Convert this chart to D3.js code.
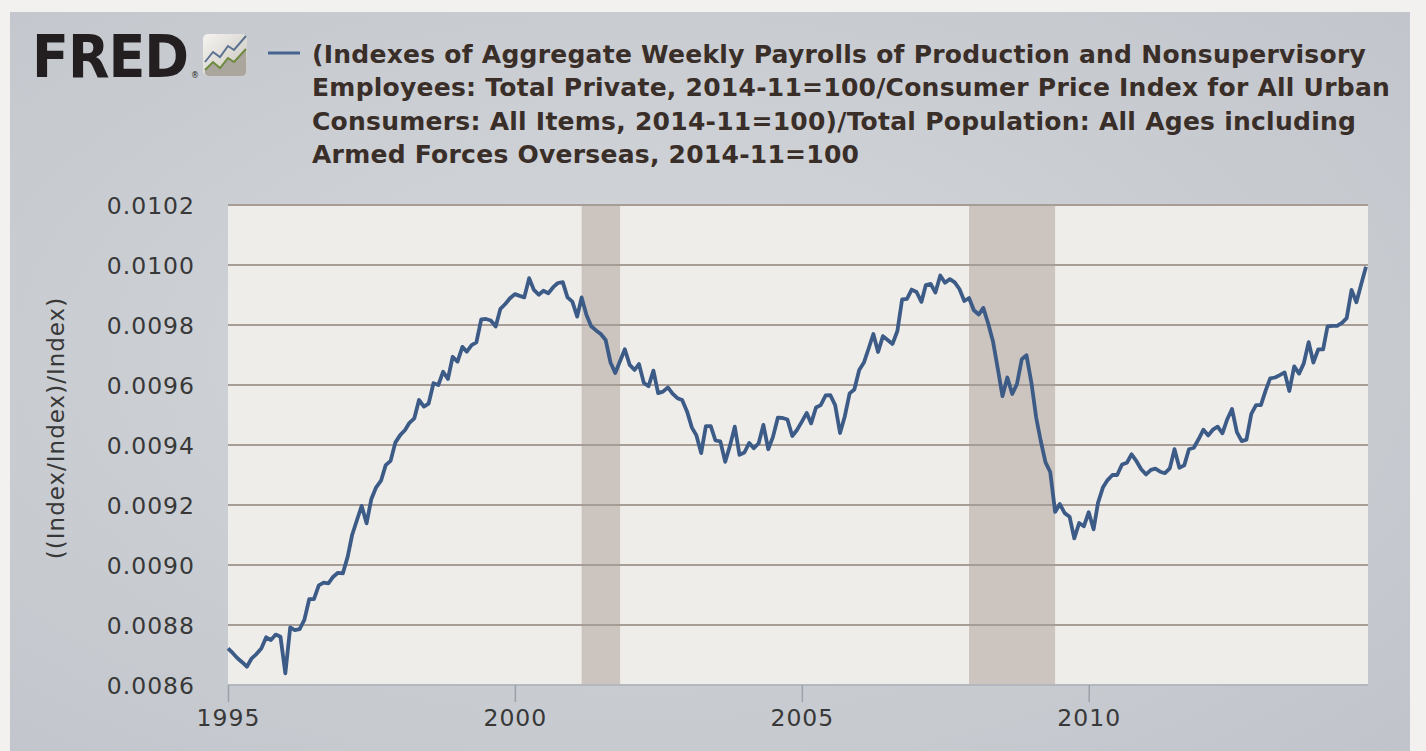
<!DOCTYPE html>
<html>
<head>
<meta charset="utf-8">
<script src="https://cdn.jsdelivr.net/npm/d3@7/dist/d3.min.js"></script>
<style>
  html, body { margin: 0; padding: 0; background: #f2f1f0; }
  svg { display: block; }
</style>
</head>
<body>
<svg id="chart" width="1426" height="751"></svg>
<script>
// monthly observations, 1995-01 .. 2014-11
const startMonth = new Date(1995, 0, 1);
const values = [
  0.008722, 0.008706, 0.008690, 0.008676, 0.008661, 0.008689, 0.008703, 0.008722, 0.008759, 0.008750, 0.008768, 0.008761,
  0.008639, 0.008792, 0.008783, 0.008786, 0.008817, 0.008886, 0.008886, 0.008932, 0.008941, 0.008939, 0.008961, 0.008974,
  0.008972, 0.009028, 0.009100, 0.009150, 0.009197, 0.009139, 0.009219, 0.009259, 0.009281, 0.009333, 0.009347, 0.009408,
  0.009433, 0.009450, 0.009474, 0.009489, 0.009550, 0.009528, 0.009538, 0.009606, 0.009600, 0.009644, 0.009620, 0.009694,
  0.009678, 0.009727, 0.009711, 0.009733, 0.009742, 0.009819, 0.009820, 0.009815, 0.009795, 0.009854, 0.009870, 0.009889,
  0.009903, 0.009897, 0.009892, 0.009956, 0.009917, 0.009901, 0.009914, 0.009906, 0.009926, 0.009940, 0.009943, 0.009892,
  0.009878, 0.009828, 0.009892, 0.009833, 0.009796, 0.009782, 0.009770, 0.009750, 0.009675, 0.009640, 0.009680, 0.009719,
  0.009667, 0.009650, 0.009670, 0.009607, 0.009596, 0.009648, 0.009573, 0.009578, 0.009592, 0.009571, 0.009556, 0.009550,
  0.009512, 0.009458, 0.009433, 0.009373, 0.009463, 0.009463, 0.009415, 0.009412, 0.009344, 0.009397, 0.009461, 0.009367,
  0.009375, 0.009407, 0.009389, 0.009406, 0.009467, 0.009386, 0.009427, 0.009491, 0.009490, 0.009485, 0.009430, 0.009450,
  0.009478, 0.009507, 0.009472, 0.009525, 0.009533, 0.009565, 0.009566, 0.009533, 0.009440, 0.009495, 0.009572, 0.009585,
  0.009650, 0.009676, 0.009720, 0.009770, 0.009710, 0.009763, 0.009750, 0.009737, 0.009780, 0.009885, 0.009887, 0.009918,
  0.009910, 0.009877, 0.009933, 0.009937, 0.009908, 0.009965, 0.009941, 0.009953, 0.009942, 0.009920, 0.009880, 0.009890,
  0.009849, 0.009835, 0.009857, 0.009805, 0.009747, 0.009655, 0.009563, 0.009625, 0.009570, 0.009603, 0.009686, 0.009699,
  0.009608, 0.009490, 0.009415, 0.009342, 0.009310, 0.009177, 0.009203, 0.009173, 0.009161, 0.009089, 0.009140, 0.009129,
  0.009176, 0.009119, 0.009207, 0.009258, 0.009283, 0.009300, 0.009300, 0.009335, 0.009341, 0.009369, 0.009346, 0.009319,
  0.009302, 0.009317, 0.009321, 0.009311, 0.009306, 0.009322, 0.009386, 0.009324, 0.009332, 0.009386, 0.009391, 0.009419,
  0.009451, 0.009432, 0.009451, 0.009461, 0.009439, 0.009486, 0.009520, 0.009443, 0.009413, 0.009418, 0.009504, 0.009533,
  0.009533, 0.009583, 0.009622, 0.009625, 0.009633, 0.009642, 0.009580, 0.009662, 0.009638, 0.009672, 0.009743, 0.009675,
  0.009719, 0.009719, 0.009795, 0.009797, 0.009797, 0.009807, 0.009823, 0.009917, 0.009876, 0.009935, 0.009994
];
const yTicks = [0.0086, 0.0088, 0.0090, 0.0092, 0.0094, 0.0096, 0.0098, 0.0100, 0.0102];
const xTickYears = [1995, 2000, 2005, 2010];
const recessions = [
  ["2001-03-01", "2001-11-01"],
  ["2007-12-01", "2009-06-01"]
];
const titleLines = [
  "(Indexes of Aggregate Weekly Payrolls of Production and Nonsupervisory",
  "Employees: Total Private, 2014-11=100/Consumer Price Index for All Urban",
  "Consumers: All Items, 2014-11=100)/Total Population: All Ages including",
  "Armed Forces Overseas, 2014-11=100"
];
const yLabel = "((Index/Index)/Index)";

const data = values.map((v, i) => ({ date: d3.timeMonth.offset(startMonth, i), value: v }));
const parse = d3.timeParse("%Y-%m-%d");

const svg = d3.select("#chart");
const defs = svg.append("defs");

const panelGrad = defs.append("radialGradient").attr("id", "panelGrad")
  .attr("cx", "45%").attr("cy", "45%").attr("r", "75%");
panelGrad.append("stop").attr("offset", "0%").attr("stop-color", "#d4d7db");
panelGrad.append("stop").attr("offset", "100%").attr("stop-color", "#c1c5cb");

const iconGrad = defs.append("linearGradient").attr("id", "iconGrad")
  .attr("x1", "0").attr("y1", "0").attr("x2", "1").attr("y2", "1");
iconGrad.append("stop").attr("offset", "0%").attr("stop-color", "#f6f4f0");
iconGrad.append("stop").attr("offset", "100%").attr("stop-color", "#c9c5be");

// panel
svg.append("rect").attr("x", 10).attr("y", 12).attr("width", 1400).attr("height", 760)
  .attr("fill", "url(#panelGrad)");

// logo: narrower glyphs stretched upward so the mark keeps its height
const logo = svg.append("g");
logo.append("text").attr("transform", "translate(32,77) scale(1,1.1)")
  .attr("font-family", "DejaVu Sans").attr("font-weight", "bold").attr("font-size", 54)
  .attr("letter-spacing", -1)
  .attr("fill", "#231f20").text("FRED");
logo.append("text").attr("x", 191).attr("y", 78)
  .attr("font-family", "DejaVu Sans").attr("font-size", 8).attr("fill", "#231f20").text("®");
logo.append("rect").attr("x", 203).attr("y", 34).attr("width", 44).attr("height", 42).attr("rx", 5)
  .attr("fill", "url(#iconGrad)");
logo.append("path")
  .attr("d", "M205,74 L205,70 L213,62 L220,68 L228,58 L234,62 L246,49 L246,71 Q246,76 241,76 L208,76 Z")
  .attr("fill", "#aaa59d");
logo.append("polyline").attr("points", "205,70 213,62 220,68 228,58 234,62 246,49")
  .attr("fill", "none").attr("stroke", "#6d8a3e").attr("stroke-width", 2);
logo.append("polyline").attr("points", "205,62 213,52 220,57 228,46 234,50 246,36")
  .attr("fill", "none").attr("stroke", "#5a7290").attr("stroke-width", 2);

// legend + title
svg.append("line").attr("x1", 268).attr("x2", 300).attr("y1", 53).attr("y2", 53)
  .attr("stroke", "#45648f").attr("stroke-width", 3);
svg.append("g").selectAll("text").data(titleLines).join("text")
  .attr("x", 312).attr("y", (d, i) => 63 + i * 33.4)
  .attr("font-family", "DejaVu Sans").attr("font-weight", "bold").attr("font-size", 25)
  .attr("letter-spacing", 0.25)
  .attr("fill", "#3a2e29").text(d => d);

// plot area
const plot = { left: 228, right: 1368, top: 205, bottom: 685 };
const x = d3.scaleTime()
  .domain([startMonth, data[data.length - 1].date])
  .range([plot.left, 1366]);
const y = d3.scaleLinear().domain([0.0086, 0.0102]).range([plot.bottom, plot.top]);

svg.append("rect").attr("x", plot.left).attr("y", plot.top)
  .attr("width", plot.right - plot.left).attr("height", plot.bottom - plot.top)
  .attr("fill", "#efedea");

svg.append("g").selectAll("rect").data(recessions).join("rect")
  .attr("x", d => x(parse(d[0])))
  .attr("width", d => x(parse(d[1])) - x(parse(d[0])))
  .attr("y", plot.top).attr("height", plot.bottom - plot.top)
  .attr("fill", "#ccc4bf");

svg.append("g").selectAll("line").data(yTicks.slice(1)).join("line")
  .attr("x1", plot.left).attr("x2", plot.right)
  .attr("y1", d => y(d)).attr("y2", d => y(d))
  .attr("stroke", "#a59d96").attr("stroke-width", 2);

// axes
const yAxis = svg.append("g").attr("transform", `translate(${plot.left - 33},0)`)
  .call(d3.axisLeft(y).tickValues(yTicks).tickFormat(d3.format(".4f")).tickSize(0).tickPadding(0));
yAxis.select(".domain").remove();
yAxis.selectAll("text").attr("font-family", "DejaVu Sans").attr("font-size", 23.5)
  .attr("letter-spacing", 1).attr("fill", "#383838").attr("dy", "0.36em");

const xAxis = svg.append("g").attr("transform", `translate(0,${plot.bottom})`)
  .call(d3.axisBottom(x).tickValues(xTickYears.map(yr => new Date(yr, 0, 1)))
    .tickFormat(d3.timeFormat("%Y")).tickSize(17).tickPadding(7));
xAxis.select(".domain").attr("stroke", "#b3b8bf").attr("stroke-width", 2)
  .attr("d", `M${plot.left},0H${plot.right}`);
xAxis.selectAll(".tick line").attr("stroke", "#9aa1a9").attr("stroke-width", 1.5);
xAxis.selectAll("text").attr("font-family", "DejaVu Sans").attr("font-size", 23.5)
  .attr("letter-spacing", 1).attr("fill", "#383838");

svg.append("text")
  .attr("transform", "translate(64,428) rotate(-90)")
  .attr("text-anchor", "middle")
  .attr("font-family", "DejaVu Sans").attr("font-size", 23).attr("letter-spacing", 1)
  .attr("fill", "#383838")
  .text(yLabel);

// series
const line = d3.line().x(d => x(d.date)).y(d => y(d.value));
svg.append("path").datum(data)
  .attr("fill", "none").attr("stroke", "#3d5b87").attr("stroke-width", 3.8)
  .attr("stroke-linejoin", "round")
  .attr("d", line);
</script>
</body>
</html>
